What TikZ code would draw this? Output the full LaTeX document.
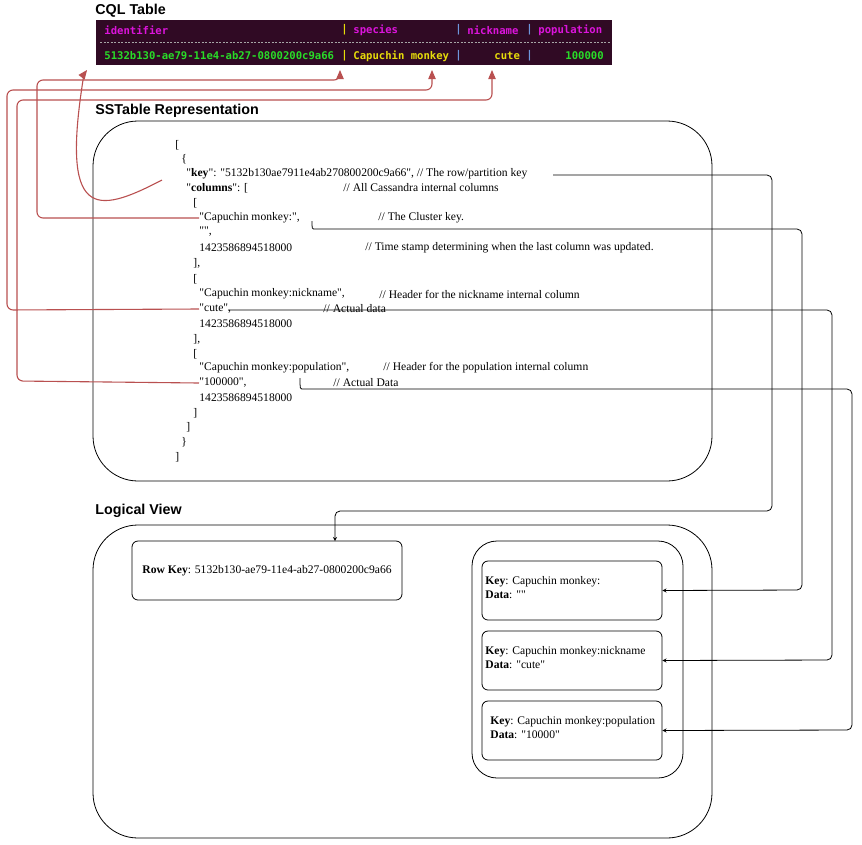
\documentclass[tikz,border=0pt]{standalone}
\usepackage{fontspec}
\setmainfont{Liberation Serif}[Ligatures=TeXOff]
\newfontfamily\titlefont{Liberation Sans}
\newfontfamily\cqlfont{DejaVu Sans Mono}
\usetikzlibrary{calc,arrows}
\definecolor{termbg}{RGB}{48,10,36}
\definecolor{cqlmag}{RGB}{220,20,220}
\definecolor{cqlgreen}{RGB}{40,220,40}
\definecolor{cqlyellow}{RGB}{230,220,10}
\definecolor{cqlcyan}{RGB}{110,150,220}
\definecolor{linkred}{RGB}{185,80,80}
\newcommand\jsonx{175}
\newcommand\dq{"}

\begin{document}
\begin{tikzpicture}[x=1pt, y=-1pt, >=stealth, line width=0.8pt]
	\tikzstyle{every node}=[font=\fontsize{11.6}{14}\selectfont, inner sep=0pt]
	\tikzstyle{title}=[anchor=west, font=\titlefont\bfseries\fontsize{14.3}{16}\selectfont]
	\tikzstyle{json}=[anchor=west]
	\tikzstyle{cql}=[anchor=west, font=\cqlfont\bfseries\fontsize{10.6}{12}\selectfont]
	\tikzstyle{bigbox}=[draw, rounded corners=45pt]
	\tikzstyle{cell}=[draw, rounded corners=6pt]
	\tikzstyle{redlink}=[draw=linkred, line width=1.1pt, ->, >=triangle 45, rounded corners=6pt]
	\tikzstyle{blacklink}=[draw, ->, rounded corners=5pt]
	\useasboundingbox (0,0) rectangle (862,844);

	%titles
	\node[title] (cqltitle) at (95,11) {CQL Table};
	\node[title] (sstitle) at (95,111) {SSTable Representation};
	\node[title] (lvtitle) at (95,511) {Logical View};

	%cql table
	\fill[termbg] (96,20) rectangle (612,65);
	\node[cql, text=cqlmag] (hid) at (104,30) {identifier};
	\node[cql, text=cqlyellow] (p1) at (341,30) {|};
	\node[cql, text=cqlmag] (hsp) at (353,30) {species};
	\node[cql, text=cqlcyan] (p2) at (455,30) {|};
	\node[cql, text=cqlmag] (hnick) at (467,30) {nickname};
	\node[cql, text=cqlcyan] (p3) at (526,30) {|};
	\node[cql, text=cqlmag] (hpop) at (538,30) {population};
	\draw[gray!70, dash pattern=on 2pt off 1.5pt, line width=0.6pt] (100,42) -- (610,42);
	\node[cql, text=cqlgreen] (vid) at (104,56) {5132b130-ae79-11e4-ab27-0800200c9a66};
	\node[cql, text=cqlyellow] (q1) at (341,56) {|};
	\node[cql, text=cqlyellow] (vsp) at (353,56) {Capuchin monkey};
	\node[cql, text=cqlcyan] (q2) at (455,56) {|};
	\node[cql, text=cqlyellow] (vnick) at (494,56) {cute};
	\node[cql, text=cqlcyan] (q3) at (526,56) {|};
	\node[cql, text=cqlgreen] (vpop) at (565,56) {100000};
	\coordinate (tid) at (87,70);
	\coordinate (tsp) at (340,70);
	\coordinate (tnick) at (432,70);
	\coordinate (tpop) at (492,70);

	%sstable
	\draw[bigbox] (93,121) rectangle (712,481);
	\node[json] (j1) at (\jsonx,145) {[};
	\node[json] (j2) at (181,159) {\{};
	\node[json] (jkey) at (186,174) {\dq\textbf{key}\dq: \dq5132b130ae7911e4ab270800200c9a66\dq, // The row/partition key};
	\node[json] (jcols) at (186,188) {\dq\textbf{columns}\dq: [};
	\node[json] (ccols) at (343,188) {// All Cassandra internal columns};
	\node[json] (j3) at (193,203) {[};
	\node[json] (jck) at (199,218) {\dq Capuchin monkey:\dq,};
	\node[json] (cck) at (378,218) {// The Cluster key.};
	\node[json] (jempty) at (199,232) {\dq\dq,};
	\node[json] (jts1) at (199,248) {1423586894518000};
	\node[json] (cts) at (365,248) {// Time stamp determining when the last column was updated.};
	\node[json] (j4) at (193,263) {],};
	\node[json] (j5) at (193,279) {[};
	\node[json] (jnick) at (199,294) {\dq Capuchin monkey:nickname\dq,};
	\node[json] (cnick) at (379,294) {// Header for the nickname internal column};
	\node[json] (jcute) at (199,309) {\dq cute\dq,};
	\node[json] (ccute) at (323,309) {// Actual data};
	\node[json] (jts2) at (199,324) {1423586894518000};
	\node[json] (j6) at (193,339) {],};
	\node[json] (j7) at (193,354) {[};
	\node[json] (jpop) at (199,368) {\dq Capuchin monkey:population\dq,};
	\node[json] (cpop) at (383,368) {// Header for the population internal column};
	\node[json] (jval) at (199,383) {\dq100000\dq,};
	\node[json] (cval) at (333,383) {// Actual Data};
	\node[json] (jts3) at (199,398) {1423586894518000};
	\node[json] (j8) at (193,413) {]};
	\node[json] (j9) at (186,427) {]};
	\node[json] (j10) at (181,442) {\}};
	\node[json] (j11) at (\jsonx,457) {]};

	%logical view
	\draw[bigbox] (93,525) rectangle (712,838);
	\node[cell, minimum width=270pt, minimum height=59pt] (rowkey) at (267,570.5) {\textbf{Row Key}: 5132b130-ae79-11e4-ab27-0800200c9a66};
	\draw[draw, rounded corners=25pt] (472,541) rectangle (683,778);
	\node[cell, minimum width=180pt, minimum height=59pt] (kb1) at (572,590.5) {};
	\node[anchor=north west, align=left] (kt1) at (485,576) {\textbf{Key}: Capuchin monkey:\\\textbf{Data}: \dq\dq};
	\node[cell, minimum width=180pt, minimum height=59pt] (kb2) at (572,660.5) {};
	\node[anchor=north west, align=left] (kt2) at (485,646) {\textbf{Key}: Capuchin monkey:nickname\\\textbf{Data}: \dq cute\dq};
	\node[cell, minimum width=180pt, minimum height=59pt] (kb3) at (572,730.5) {};
	\node[anchor=north west, align=left] (kt3) at (490,716) {\textbf{Key}: Capuchin monkey:population\\\textbf{Data}: \dq10000\dq};

	%red links to the cql table
	\draw[linkred, line width=1.1pt] (162,180) .. controls (95,215) and (60,220) .. (84,74);
	\draw[redlink] (84,74) -- (tid);
	\draw[redlink] (jck.west) -- (37,218) -- (37,80) -- (340,80) -- (tsp);
	\draw[redlink] (jcute.west) -- (7,310) -- (7,90) -- (432,90) -- (tnick);
	\draw[redlink] (jval.west) -- (17,381) -- (17,100) -- (492,100) -- (tpop);

	%black links to the logical view
	\draw[blacklink] (553,175) -- (772,175) -- (772,511) -- (335,511) -- (335,541);
	\draw[blacklink] (312,221) .. controls (312,229) .. (320,229) -- (802,229) -- (802,590) -- (kb1.east);
	\draw[blacklink] (228,310) -- (832,310) -- (832,660) -- (kb2.east);
	\draw[blacklink] (300,378) .. controls (300,389) .. (308,389) -- (852,389) -- (852,730) -- (kb3.east);
\end{tikzpicture}
\end{document}
